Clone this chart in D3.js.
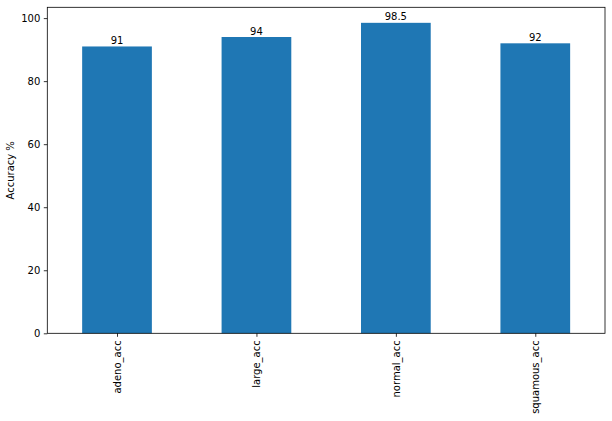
<!DOCTYPE html>
<html><head><meta charset="utf-8">
<script src="https://cdn.jsdelivr.net/npm/d3@7"></script>
<style>body{margin:0;background:#fff}text{font-family:"DejaVu Sans",sans-serif;fill:#000}</style>
</head><body><svg id="c" width="612" height="421"></svg>
<script>
const categories = ["adeno_acc","large_acc","normal_acc","squamous_acc"];
const values = [91, 94, 98.5, 92];
const yTicks = [0,20,40,60,80,100];

const svg = d3.select("#c");
const L=47.3,R=605,T=7.3,B=333.3;
const x = d3.scaleLinear().domain([-0.5, categories.length-0.5]).range([L,R]);
const y = d3.scaleLinear().domain([0, d3.max(values)*1.05]).range([B,T]);
const bw = x(0.25)-x(-0.25);

svg.selectAll("rect.bar").data(values).join("rect").attr("class","bar")
  .attr("x",(d,i)=>x(i)-bw/2).attr("width",bw)
  .attr("y",d=>y(d)).attr("height",d=>B-y(d)).attr("fill","#1f77b4");

svg.selectAll("text.val").data(values).join("text").attr("class","val")
  .attr("x",(d,i)=>x(i)).attr("y",d=>y(d)-2.5).attr("text-anchor","middle")
  .attr("font-size","10px").text(d=>d);

const ya = svg.append("g").attr("transform",`translate(${L},0)`)
  .call(d3.axisLeft(y).tickValues(yTicks).tickSize(3.5).tickPadding(3.5));
ya.select(".domain").remove();
ya.selectAll("text").attr("font-size","10px").style("font-family","DejaVu Sans");
ya.selectAll("line").attr("stroke","#000").attr("stroke-width",0.8);

const xa = svg.append("g").attr("transform",`translate(0,${B})`)
  .call(d3.axisBottom(x).tickValues(d3.range(categories.length)).tickFormat(i=>categories[i]).tickSize(3.5).tickPadding(3.5));
xa.select(".domain").remove();
xa.selectAll("line").attr("stroke","#000").attr("stroke-width",0.8);
xa.selectAll("text").attr("font-size","10px").style("font-family","DejaVu Sans")
  .attr("text-anchor","end").attr("dy","0.35em")
  .attr("transform","rotate(-90)").attr("x",-7).attr("y",0);

svg.append("rect").attr("x",L).attr("y",T).attr("width",R-L).attr("height",B-T)
  .attr("fill","none").attr("stroke","#000").attr("stroke-width",0.8);

svg.append("text").attr("transform",`translate(14,${(T+B)/2}) rotate(-90)`)
  .attr("text-anchor","middle").attr("font-size","10px").text("Accuracy %");
</script></body></html>
